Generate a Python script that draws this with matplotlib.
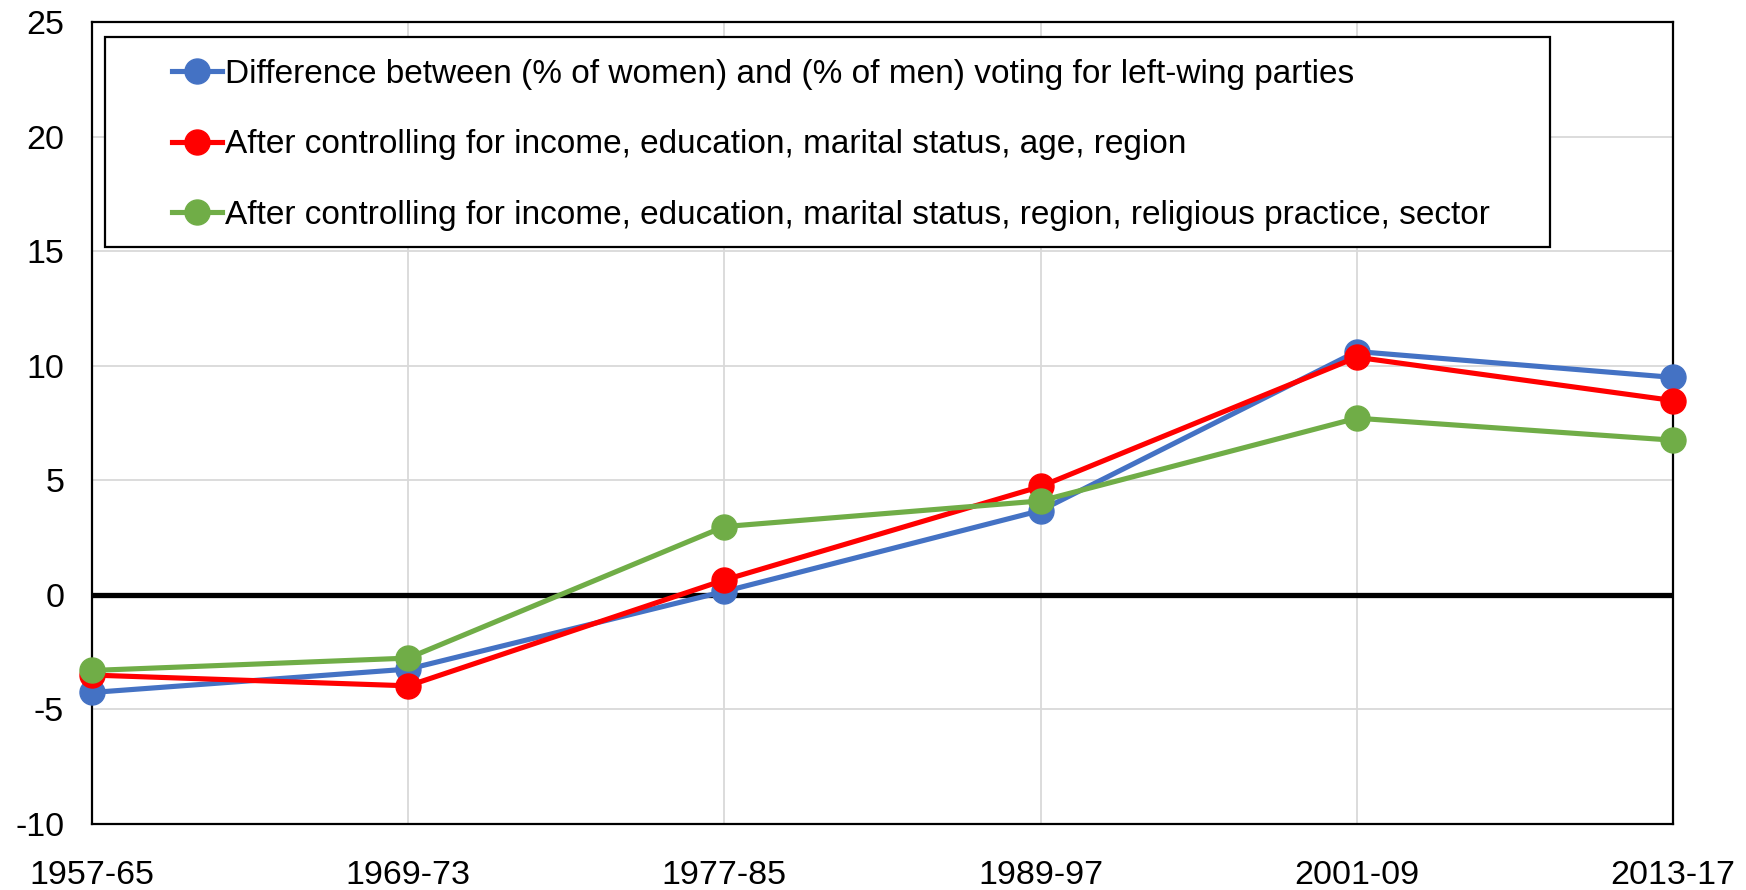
import matplotlib.pyplot as plt
from matplotlib.patches import Rectangle

plt.rcParams['font.family'] = ['Liberation Sans', 'DejaVu Sans']
plt.rcParams['axes.unicode_minus'] = False

periods = ['1957-65', '1969-73', '1977-85', '1989-97', '2001-09', '2013-17']
raw_gap = [-4.26, -3.24, 0.15, 3.68, 10.62, 9.49]
ctrl_age = [-3.5, -3.97, 0.65, 4.73, 10.37, 8.48]
ctrl_relig = [-3.3, -2.76, 2.98, 4.1, 7.71, 6.75]

labels = [
    'Difference between (% of women) and (% of men) voting for left-wing parties',
    'After controlling for income, education, marital status, age, region',
    'After controlling for income, education, marital status, region, religious practice, sector',
]
colors = ['#4472C4', '#FF0000', '#70AD47']

fig = plt.figure(figsize=(17.46, 8.9), dpi=100)
fig.subplots_adjust(left=92/1746, right=1673/1746, top=1-22/890, bottom=1-824/890)
ax = fig.add_subplot(111)

x = list(range(len(periods)))
for series, lab, col in zip([raw_gap, ctrl_age, ctrl_relig], labels, colors):
    ax.plot(x, series, color=col, lw=3.7, marker='o', markersize=18,
            label=lab, clip_on=False, zorder=4)

ax.axhline(0, color='black', lw=3.8, zorder=3)

ax.set_xlim(0, len(periods) - 1)
ax.set_ylim(-10, 25)
ax.set_yticks(range(-10, 26, 5))
ax.set_xticks(x)
ax.set_xticklabels(periods)
ax.tick_params(axis='both', length=0, labelsize=24.5)
ax.tick_params(axis='x', pad=26)
ax.tick_params(axis='y', pad=20)

ax.set_axisbelow(True)
ax.grid(True, color='#d9d9d9', lw=1.3)
for s in ax.spines.values():
    s.set_color('black')
    s.set_linewidth(1.6)

# legend box (drawn separately so the entries can sit indented like in Excel)
box = Rectangle((0.0082, 0.7195), 0.9138, 0.2615, transform=ax.transAxes,
                facecolor='white', edgecolor='black', lw=1.6, zorder=2.5)
ax.add_patch(box)
ax.legend(loc='upper left', bbox_to_anchor=(0.0505, 0.954), frameon=False,
          fontsize=24, borderpad=0, borderaxespad=0, handlelength=1.5,
          handletextpad=0.08, labelspacing=1.18)

fig.savefig('out.png', dpi=100)
